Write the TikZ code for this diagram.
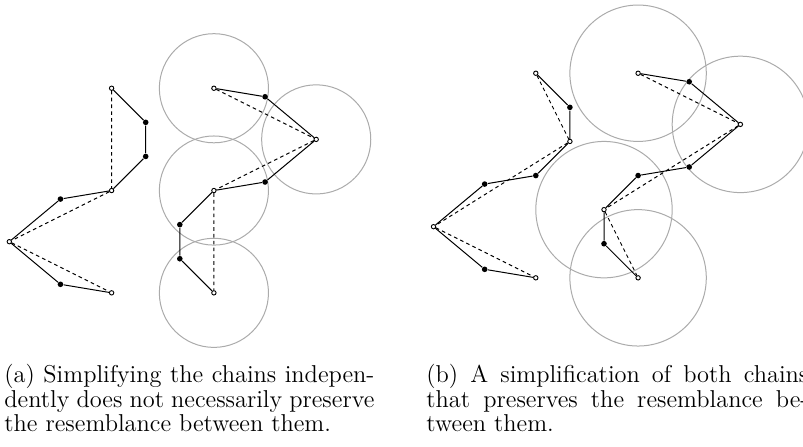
\documentclass[tikz,border=0pt]{standalone}
\usetikzlibrary{positioning}
\usetikzlibrary{backgrounds}

\begin{document}
\begin{tikzpicture}[x=17.05pt, y=17.05pt,
  wpt/.style={circle, draw=black, fill=white, line width=0.45pt, inner sep=0pt, minimum size=2.2pt},
  bpt/.style={circle, fill=black, inner sep=0pt, minimum size=2.8pt},
  chain/.style={black, line width=0.5pt},
  simp/.style={black, line width=0.5pt, dash pattern=on 1.8pt off 1.6pt},
  ring/.style={black!33, line width=0.5pt},
  captxt/.style={anchor=base west, inner sep=0pt, font=\fontsize{12.2}{12.25}\selectfont}]
\useasboundingbox (-0.273,-6.021) rectangle (23.276,7.088);

% (a) first chain
\node[wpt] (a0) at (3,4.5) {};
\node[bpt] (a1) at (4,3.5) {};
\node[bpt] (a2) at (4,2.5) {};
\node[wpt] (a3) at (3,1.5) {};
\node[bpt] (a4) at (1.5,1.25) {};
\node[wpt] (a5) at (0,0) {};
\node[bpt] (a6) at (1.5,-1.25) {};
\node[wpt] (a7) at (3,-1.5) {};
\draw[chain] (a0)--(a1)--(a2)--(a3)--(a4)--(a5)--(a6)--(a7);
\draw[simp] (a0)--(a3)--(a5)--(a7);

% (a) second chain
\node[wpt] (c0) at (6,4.5) {};
\node[bpt] (c1) at (7.5,4.25) {};
\node[wpt] (c2) at (9,3) {};
\node[bpt] (c3) at (7.5,1.75) {};
\node[wpt] (c4) at (6,1.5) {};
\node[bpt] (c5) at (5,0.5) {};
\node[bpt] (c6) at (5,-0.5) {};
\node[wpt] (c7) at (6,-1.5) {};
\draw[chain] (c0)--(c1)--(c2)--(c3)--(c4)--(c5)--(c6)--(c7);
\draw[simp] (c0)--(c2)--(c4)--(c7);
\begin{scope}[on background layer]
\draw[ring] (c0) circle[radius=1.6];
\draw[ring] (c2) circle[radius=1.6];
\draw[ring] (c4) circle[radius=1.6];
\draw[ring] (c7) circle[radius=1.6];
\end{scope}

\node[captxt] (capa1) at (-0.155,-4.144) {\makebox[185pt][s]{(a) Simplifying the chains indepen-}};
\node[captxt] (capa2) at (-0.155,-4.862) {\makebox[185pt][s]{dently does not necessarily preserve}};
\node[captxt] (capa3) at (-0.155,-5.580) {the resemblance between them.};

% (b)
\begin{scope}[shift={(12.44,0.44)}]
\node[wpt] (d0) at (3,4.5) {};
\node[bpt] (d1) at (4,3.5) {};
\node[wpt] (d2) at (4,2.5) {};
\node[bpt] (d3) at (3,1.5) {};
\node[bpt] (d4) at (1.5,1.25) {};
\node[wpt] (d5) at (0,0) {};
\node[bpt] (d6) at (1.5,-1.25) {};
\node[wpt] (d7) at (3,-1.5) {};
\draw[chain] (d0)--(d1)--(d2)--(d3)--(d4)--(d5)--(d6)--(d7);
\draw[simp] (d0)--(d2)--(d5)--(d7);

\node[wpt] (e0) at (6,4.5) {};
\node[bpt] (e1) at (7.5,4.25) {};
\node[wpt] (e2) at (9,3) {};
\node[bpt] (e3) at (7.5,1.75) {};
\node[bpt] (e4) at (6,1.5) {};
\node[wpt] (e5) at (5,0.5) {};
\node[bpt] (e6) at (5,-0.5) {};
\node[wpt] (e7) at (6,-1.5) {};
\draw[chain] (e0)--(e1)--(e2)--(e3)--(e4)--(e5)--(e6)--(e7);
\draw[simp] (e0)--(e2)--(e5)--(e7);
\end{scope}
\begin{scope}[on background layer]
\draw[ring] (e0) circle[radius=2];
\draw[ring] (e2) circle[radius=2];
\draw[ring] (e5) circle[radius=2];
\draw[ring] (e7) circle[radius=2];
\end{scope}

\node[captxt] (capb1) at (12.22,-4.144) {\makebox[191pt][s]{(b) A simplification of both chains}};
\node[captxt] (capb2) at (12.22,-4.862) {\makebox[191pt][s]{that preserves the resemblance be-}};
\node[captxt] (capb3) at (12.22,-5.580) {tween them.};

\end{tikzpicture}
\end{document}
